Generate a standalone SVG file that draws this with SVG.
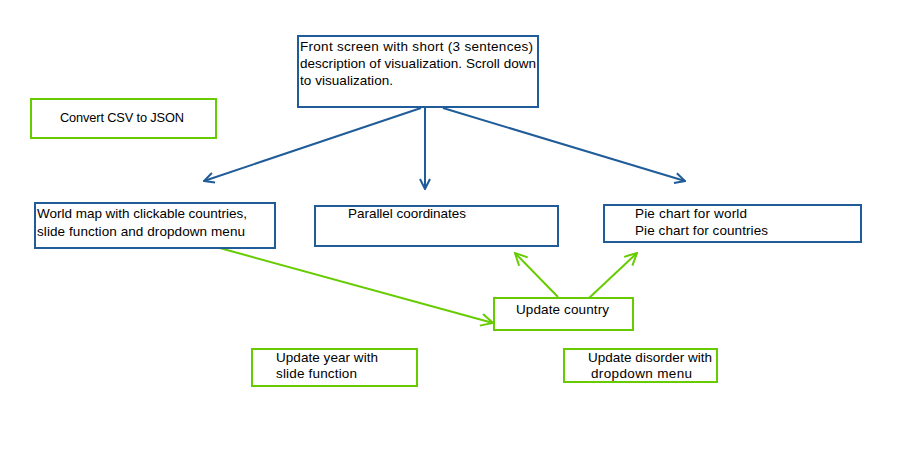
<svg xmlns="http://www.w3.org/2000/svg" width="898" height="462" viewBox="0 0 898 462">
<defs>
<style>
.b{fill:#fff;stroke:#1F5C99;stroke-width:2}
.g{fill:#fff;stroke:#66CC00;stroke-width:2}
text{font-family:"Liberation Sans",Arial,sans-serif;font-size:13.5px;fill:#000}
.cb{stroke:#1F5C99;stroke-width:2;fill:none}
.cg{stroke:#66CC00;stroke-width:2;fill:none}
</style>
<marker id="ab" viewBox="0 0 12 12" refX="11" refY="6" markerWidth="12" markerHeight="12" markerUnits="userSpaceOnUse" orient="auto"><path d="M1,1 L11,6 L1,11" fill="none" stroke="#1F5C99" stroke-width="2"/></marker>
<marker id="ag" viewBox="0 0 14 14" refX="13" refY="7" markerWidth="14" markerHeight="14" markerUnits="userSpaceOnUse" orient="auto"><path d="M1,1 L13,7 L1,13" fill="none" stroke="#66CC00" stroke-width="2"/></marker>
</defs>
<rect width="898" height="462" fill="#fff"/>
<g id="connectors">
<line class="cb" x1="421" y1="108" x2="204" y2="181" marker-end="url(#ab)"/>
<line class="cb" x1="425" y1="108" x2="425" y2="189" marker-end="url(#ab)"/>
<line class="cb" x1="443" y1="108" x2="685" y2="181" marker-end="url(#ab)"/>
<line class="cg" x1="216" y1="247" x2="493" y2="323" marker-end="url(#ag)"/>
<line class="cg" x1="558" y1="297" x2="515" y2="253" marker-end="url(#ag)"/>
<line class="cg" x1="588" y1="299" x2="637" y2="253" marker-end="url(#ag)"/>
</g>
<g id="front"><rect class="b" x="298" y="36" width="240" height="71"/>
<text x="300" y="51" textLength="233">Front screen with short (3 sentences)</text>
<text x="300" y="68" textLength="236">description of visualization. Scroll down</text>
<text x="300" y="85" textLength="93">to visualization.</text></g>
<g id="csv"><rect class="g" x="31" y="99" width="185" height="39"/>
<text x="60" y="122" textLength="124" style="font-size:12.8px">Convert CSV to JSON</text></g>
<g id="worldmap"><rect class="b" x="35" y="203" width="240" height="45"/>
<text x="37" y="218" textLength="210">World map with clickable countries,</text>
<text x="37" y="236" textLength="208">slide function and dropdown menu</text></g>
<g id="parallel"><rect class="b" x="315" y="206" width="243" height="40"/>
<text x="348" y="218" textLength="118">Parallel coordinates</text></g>
<g id="pie"><rect class="b" x="604" y="205" width="257" height="37"/>
<text x="635" y="218" textLength="112">Pie chart for world</text>
<text x="635" y="235" textLength="133">Pie chart for countries</text></g>
<g id="country"><rect class="g" x="494" y="298" width="139" height="32"/>
<text x="516" y="314" textLength="93">Update country</text></g>
<g id="year"><rect class="g" x="252" y="349" width="165" height="37"/>
<text x="276" y="362" textLength="102">Update year with</text>
<text x="276" y="378" textLength="81">slide function</text></g>
<g id="disorder"><rect class="g" x="564" y="349" width="153" height="33"/>
<text x="588" y="362" textLength="124">Update disorder with</text>
<text x="591" y="378" textLength="101">dropdown menu</text></g>
</svg>
